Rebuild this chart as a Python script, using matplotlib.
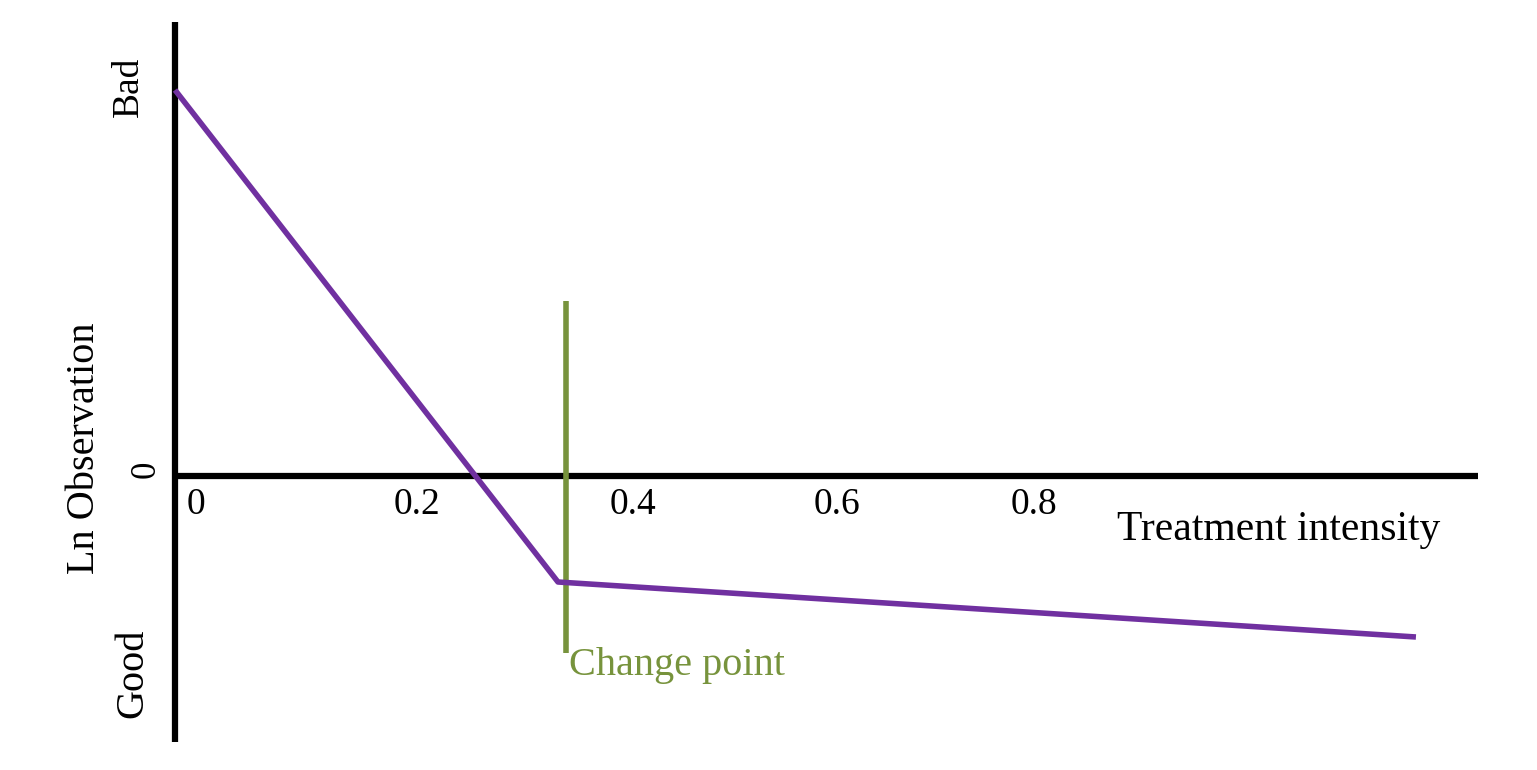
import matplotlib
matplotlib.use("Agg")
from matplotlib import pyplot as plt

# schematic: ln observation vs treatment intensity, with a change point
curve_x = [0.0, 0.3527, 1.1429]
curve_y = [3.86, -1.06, -1.61]
change_x = 0.3601
change_y = [1.75, -1.77]

tick_pos = [0.011, 0.201, 0.400, 0.588, 0.770]
tick_labels = ["0", "0.2", "0.4", "0.6", "0.8"]

x_axis_end = 1.20
y_axis_range = [-2.66, 4.54]

purple = "#7030A0"
green = "#77933C"

plt.rcParams['font.family'] = ['Liberation Serif', 'DejaVu Serif']

fig = plt.figure(figsize=(15.37, 7.70), dpi=100)
ax = fig.add_axes([0, 0, 1, 1])
ax.set_xlim(-0.1612, 1.2544)
ax.set_ylim(-2.94, 4.76)
ax.axis("off")

# hand-drawn axes
ax.plot([0, 0], y_axis_range, color="black", lw=4.5, solid_capstyle="butt")
ax.plot([0, x_axis_end], [0, 0], color="black", lw=4.5, solid_capstyle="butt")

ax.plot([change_x, change_x], change_y, color=green, lw=4, solid_capstyle="butt")
ax.plot(curve_x, curve_y, color=purple, lw=4, solid_capstyle="butt")

for p, lab in zip(tick_pos, tick_labels):
    ax.text(p, -0.11, lab, fontsize=27, ha="left", va="top")

ax.text(1.016, -0.54, "Treatment intensity", fontsize=30, ha="center", va="center")
ax.text(change_x + 0.003, -1.89, "Change point", fontsize=29, color=green,
        ha="left", va="center")

ax.text(-0.083, 0.28, "Ln Observation", fontsize=29, rotation=90,
        ha="center", va="center")
ax.text(-0.027, 0.07, "0", fontsize=25, rotation=90, ha="center", va="center")
ax.text(-0.043, 3.89, "Bad", fontsize=27, rotation=90, ha="center", va="center")
ax.text(-0.039, -1.97, "Good", fontsize=29, rotation=90, ha="center", va="center")

fig.savefig("out.png", dpi=100, facecolor="white")
